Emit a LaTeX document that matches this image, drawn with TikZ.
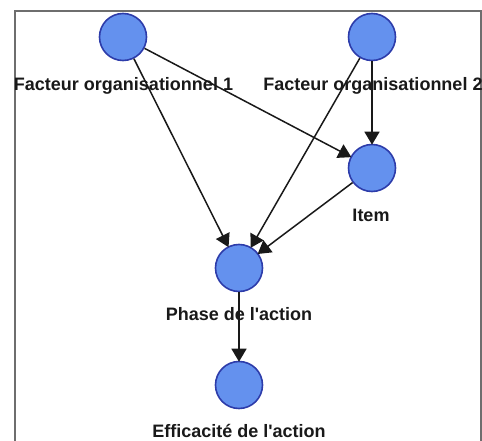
\documentclass[tikz,border=0pt]{standalone}
\usepackage{fontspec}
\setmainfont{Liberation Sans}
\usetikzlibrary{arrows.meta}
\definecolor{nodefill}{RGB}{100,145,238}
\definecolor{nodeline}{RGB}{45,60,170}
\definecolor{framegray}{RGB}{110,110,110}
\begin{document}
\begin{tikzpicture}[x=1pt,y=-1pt,
  vnode/.style={circle,draw=nodeline,fill=nodefill,line width=1.6pt,minimum size=47pt,inner sep=0pt},
  vlabel/.style={font=\bfseries\fontsize{18}{20}\selectfont,inner sep=0pt,text=black!90},
  edge/.style={draw=black!90,line width=1.5pt,-{Triangle[length=13pt,width=15pt]},shorten >=-1pt}]
\useasboundingbox (0,0) rectangle (482,441);
\coordinate (fbl) at (15,441);
\coordinate (ftl) at (15,11);
\coordinate (ftr) at (481,11);
\coordinate (fbr) at (481,441);
\draw[framegray,line width=1.8pt] (fbl) -- (ftl) -- (ftr) -- (fbr);
\node[vnode] (f1) at (123,37) {};
\node[vnode] (f2) at (372,37) {};
\node[vnode] (item) at (372,168) {};
\node[vnode] (phase) at (239,268) {};
\node[vnode] (eff) at (239,385) {};
\node[vlabel] (lf1) at (123.5,86) {Facteur organisationnel 1};
\node[vlabel] (lf2) at (373,86) {Facteur organisationnel 2};
\node[vlabel] (litem) at (371,215) {Item};
\node[vlabel] (lphase) at (239,314) {Phase de l\textquotesingle action};
\node[vlabel] (leff) at (239,431) {Efficacité de l\textquotesingle action};
\draw[edge] (f1) -- (phase);
\draw[edge] (f1) -- (item);
\draw[edge] (f2) -- (item);
\draw[edge] (f2) -- (phase);
\draw[edge] (item) -- (phase);
\draw[edge] (phase) -- (eff);
\end{tikzpicture}
\end{document}
